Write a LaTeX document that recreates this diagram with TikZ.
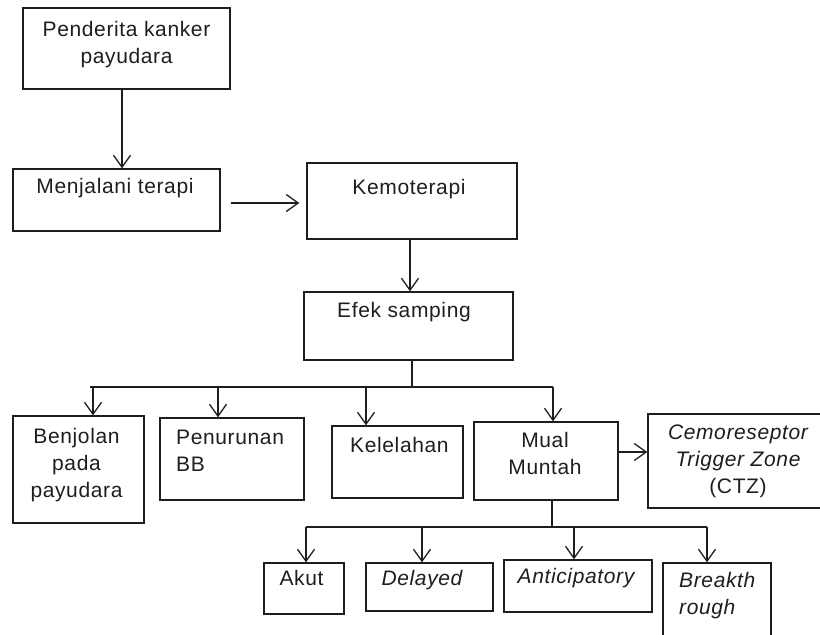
\documentclass[tikz,border=0pt]{standalone}
\usepackage{fontspec}
\newfontfamily\diafont{Liberation Sans}[LetterSpace=3]
\usetikzlibrary{arrows.meta,calc}
\definecolor{ink}{HTML}{1E1E1E}
\begin{document}
\begin{tikzpicture}[x=1pt,y=-1pt,
  box/.style={draw=ink,line width=1.3pt,rectangle,inner sep=0pt},
  txt/.style={inner sep=0pt,text=ink,font=\diafont\fontsize{21}{27}\selectfont},
  ctxt/.style={txt,align=center,anchor=base},
  ltxt/.style={txt,align=left,anchor=base west},
  link/.style={draw=ink,line width=1.3pt},
  arr/.style={link,-{Straight Barb[length=12pt,width=17pt,line width=1.3pt]}}]
\useasboundingbox (0,0) rectangle (820,635);
\clip (0,0) rectangle (820,635);
% boxes
\node[box,minimum width=207,minimum height=81] (b1) at (126.5,48.5) {};
\node[box,minimum width=207,minimum height=62] (b2) at (116.5,200) {};
\node[box,minimum width=210,minimum height=76] (b3) at (412,201) {};
\node[box,minimum width=209,minimum height=68] (b4) at (408.5,326) {};
\node[box,minimum width=131,minimum height=107] (b5) at (78.5,469.5) {};
\node[box,minimum width=144,minimum height=82] (b6) at (232,459) {};
\node[box,minimum width=131,minimum height=72] (b7) at (397.5,462) {};
\node[box,minimum width=144,minimum height=78] (b8) at (546,461) {};
\node[box,minimum width=182,minimum height=94] (b9) at (739,461) {};
\node[box,minimum width=80,minimum height=51] (b10) at (304,588.5) {};
\node[box,minimum width=127,minimum height=48] (b11) at (429.5,587) {};
\node[box,minimum width=148,minimum height=52] (b12) at (578,586) {};
\node[box,minimum width=108,minimum height=87] (b13) at (717,606.5) {};
% texts (anchor = baseline of the last line)
\node[ctxt] (t1) at (126.5,63) {Penderita kanker\\payudara};
\node[ctxt] (t2) at (115,193) {Menjalani terapi};
\node[ctxt] (t3) at (409,194) {Kemoterapi};
\node[ctxt] (t4) at (404,317) {Efek samping};
\node[ctxt] (t5) at (76.5,497) {Benjolan\\pada\\payudara};
\node[ltxt] (t6) at (176,471) {Penurunan\\BB};
\node[ltxt] (t7) at (350,452) {Kelelahan};
\node[ctxt] (t8) at (545,474) {Mual\\Muntah};
\node[ctxt] (t9) at (738,493) {\itshape Cemoreseptor\\\itshape Trigger Zone\\(CTZ)};
\node[ctxt] (t10) at (301.5,585) {Akut};
\node[ctxt] (t11) at (422,585) {\itshape Delayed};
\node[ctxt] (t12) at (576,583) {\itshape Anticipatory};
\node[ltxt] (t13) at (679,614) {\itshape Breakth\\\itshape rough};
% connectors
\draw[arr] ([xshift=-4.5]b1.south) -- ([xshift=-4.5]b1.south |- b2.north);
\draw[arr,shorten <=10pt,shorten >=7pt] ([yshift=-3]b2.east) -- ([yshift=-3]b2.east -| b3.west);
\draw[arr] ([xshift=-2]b3.south) -- ([xshift=-2]b3.south |- b4.north);
% first tree
\coordinate (j1) at (412,387);
\coordinate (jL) at (90,387);
\coordinate (a5) at (93,387);
\coordinate (a6) at (218,387);
\coordinate (a7) at (366,387);
\coordinate (a8) at (553,387);
\draw[link] (j1 |- b4.south) -- (j1);
\draw[link] (jL) -- (a8);
\draw[arr] (a5) -- (a5 |- b5.north);
\draw[arr] (a6) -- (a6 |- b6.north);
\draw[arr] (a7) -- (a7 |- b7.north);
\draw[arr] (a8) -- (a8 |- b8.north);
% CTZ arrow
\coordinate (c9) at (618,452);
\draw[arr] (c9) -- (c9 -| b9.west);
% second tree
\coordinate (j2) at (552,527);
\coordinate (a10) at (306,527);
\coordinate (a11) at (422,527);
\coordinate (a12) at (574,527);
\coordinate (a13) at (707,527);
\draw[link] (j2 |- b8.south) -- (j2);
\draw[link] (a10) -- (a13);
\draw[arr] (a10) -- (a10 |- b10.north);
\draw[arr] (a11) -- (a11 |- b11.north);
\draw[arr] (a12) -- (a12 |- b12.north);
\draw[arr] (a13) -- (a13 |- b13.north);
\end{tikzpicture}
\end{document}
